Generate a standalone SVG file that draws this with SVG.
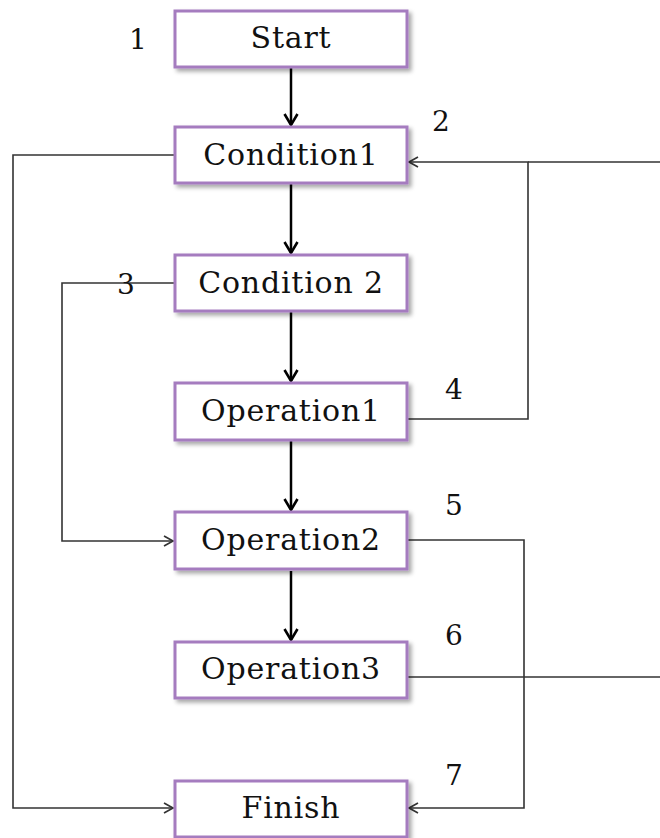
<svg xmlns="http://www.w3.org/2000/svg" width="660" height="838" viewBox="0 0 660 838">
<defs>
<marker id="ah" markerWidth="18" markerHeight="18" refX="13" refY="8" orient="auto" markerUnits="userSpaceOnUse">
<path d="M2,1.5 L13,8 L2,14.5" fill="none" stroke="#000" stroke-width="2.6"/>
</marker>
<marker id="ah2" markerWidth="14" markerHeight="14" refX="11" refY="7" orient="auto" markerUnits="userSpaceOnUse">
<path d="M2,2 L11,7 L2,12" fill="none" stroke="#333" stroke-width="1.7"/>
</marker>
<filter id="sh" x="-10%" y="-20%" width="130%" height="150%">
<feDropShadow dx="3" dy="3" stdDeviation="2" flood-color="#000" flood-opacity="0.35"/>
</filter>
</defs>
<style>
.box{fill:#fff;stroke:#a57bbf;stroke-width:3;filter:url(#sh)}
.lbl{font-family:"DejaVu Serif","Liberation Serif",serif;font-size:30px;letter-spacing:0.8px;fill:#111;text-anchor:middle}
.num{font-family:"DejaVu Serif","Liberation Serif",serif;font-size:28px;fill:#111;text-anchor:middle}
.thick{stroke:#000;stroke-width:2.5;fill:none;marker-end:url(#ah)}
.thin{stroke:#333;stroke-width:1.6;fill:none}
.thinA{stroke:#333;stroke-width:1.6;fill:none;marker-end:url(#ah2)}
</style>
<rect width="660" height="838" fill="#fff"/>
<g id="connectors">
<line class="thick" x1="291" y1="67" x2="291" y2="125"/>
<line class="thick" x1="291" y1="184" x2="291" y2="253"/>
<line class="thick" x1="291" y1="312" x2="291" y2="381"/>
<line class="thick" x1="291" y1="441" x2="291" y2="510"/>
<line class="thick" x1="291" y1="571" x2="291" y2="640"/>
<polyline class="thinA" points="175,155 13,155 13,808 173,808"/>
<polyline class="thinA" points="175,283 62,283 62,541 173,541"/>
<polyline class="thinA" points="408,419 528,419 528,162 409,162"/>
<line class="thin" x1="528" y1="162" x2="660" y2="162"/>
<polyline class="thinA" points="408,540 524,540 524,808 409,808"/>
<line class="thin" x1="408" y1="677" x2="660" y2="677"/>
</g>
<g id="start"><rect class="box" x="175" y="11" width="232" height="56"/><text class="lbl" x="291" y="48">Start</text></g>
<g id="condition1"><rect class="box" x="175" y="127" width="232" height="56"/><text class="lbl" x="291" y="165">Condition1</text></g>
<g id="condition2"><rect class="box" x="175" y="255" width="232" height="56"/><text class="lbl" x="291" y="293">Condition 2</text></g>
<g id="operation1"><rect class="box" x="175" y="383" width="232" height="57"/><text class="lbl" x="291" y="421">Operation1</text></g>
<g id="operation2"><rect class="box" x="175" y="512" width="232" height="57"/><text class="lbl" x="291" y="550">Operation2</text></g>
<g id="operation3"><rect class="box" x="175" y="642" width="232" height="56"/><text class="lbl" x="291" y="679">Operation3</text></g>
<g id="finish"><rect class="box" x="175" y="781" width="232" height="56"/><text class="lbl" x="291" y="818">Finish</text></g>
<g id="numbers">
<text class="num" x="138" y="49">1</text>
<text class="num" x="441" y="131">2</text>
<text class="num" x="126" y="294">3</text>
<text class="num" x="454" y="399">4</text>
<text class="num" x="454" y="515">5</text>
<text class="num" x="454" y="645">6</text>
<text class="num" x="454" y="785">7</text>
</g>
</svg>
